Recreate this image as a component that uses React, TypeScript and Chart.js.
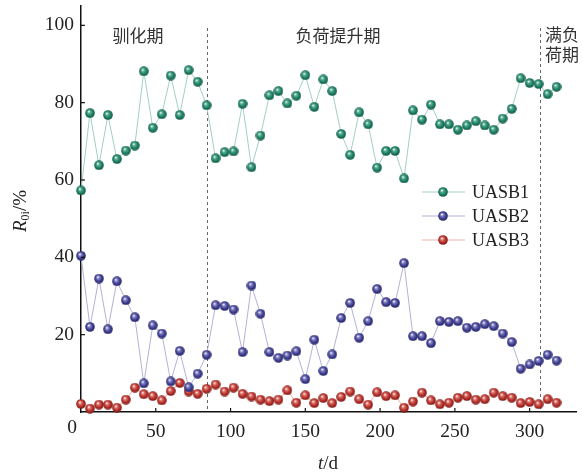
import React, { useEffect, useRef } from 'react';
import { Chart, registerables } from 'chart.js';
Chart.register(...registerables);

const days = [0,6,12,18,24,30,36,42,48,54,60,66,72,78,84,90,96,102,108,114,120,126,132,138,144,150,156,162,168,174,180,186,192,198,204,210,216,222,228,234,240,246,252,258,264,270,276,282,288,294,300,306,312,318];
const uasb1 = [57.3,77.3,63.8,76.8,65.4,67.6,68.9,88.1,73.5,77.0,87.0,76.8,88.4,85.4,79.3,65.6,67.2,67.4,79.7,63.3,71.5,81.9,83.0,79.8,81.8,87.1,78.9,86.0,83.0,71.9,66.5,77.5,74.4,63.2,67.5,67.5,60.4,78.0,75.6,79.5,74.4,74.4,73.0,74.1,75.2,74.1,73.0,75.9,78.4,86.3,85.1,84.8,82.2,84.1];
const uasb2 = [40.4,22.0,34.5,21.4,33.8,28.9,24.5,7.4,22.4,20.3,7.9,15.8,6.4,9.9,14.8,27.6,27.4,26.5,15.5,32.7,25.4,15.5,14.0,14.6,15.7,8.5,18.7,10.6,14.9,24.3,28.2,19.2,23.5,31.8,28.4,28.2,38.5,19.6,19.6,17.8,23.5,23.3,23.5,21.8,22.0,22.7,22.2,20.3,18.1,11.2,12.3,13.2,14.8,13.3];
const uasb3 = [2.1,0.9,1.9,1.9,1.1,3.2,6.3,4.6,4.1,3.0,5.4,7.5,5.3,4.7,6.0,7.1,5.3,6.3,4.7,4.0,3.2,2.8,3.2,5.6,2.4,4.3,2.3,3.6,2.3,3.9,5.3,3.3,1.9,5.1,4.1,4.3,1.1,2.7,5.0,3.0,2.0,2.4,3.7,4.1,3.2,3.3,5.0,4.1,3.7,2.3,2.6,2.0,3.3,2.4];
const seriesNames = ['UASB1', 'UASB2', 'UASB3'];
const xTicks = [0, 50, 100, 150, 200, 250, 300];
const yTicks = [0, 20, 40, 60, 80, 100];
const phaseBounds = [84, 307];
const phaseLabels = ['驯化期', '负荷提升期', '满负', '荷期'];

const markerColors = [
  { mid: '#1f8165', dark: '#0c4f3c', light: '#5fb39a', line: '#a3cfc2' },
  { mid: '#403f92', dark: '#20205c', light: '#8a88c8', line: '#b3b1d6' },
  { mid: '#b8302b', dark: '#701410', light: '#e07a72', line: '#eeb3a6' },
];

function sphere(c: { mid: string; dark: string; light: string }) {
  const cv = document.createElement('canvas');
  cv.width = 10; cv.height = 10;
  const g = cv.getContext('2d')!;
  const grad = g.createRadialGradient(3.8, 3.3, 0.3, 5, 5, 5.2);
  grad.addColorStop(0, '#ffffff');
  grad.addColorStop(0.22, c.light);
  grad.addColorStop(0.6, c.mid);
  grad.addColorStop(1, c.dark);
  g.fillStyle = grad;
  g.beginPath();
  g.arc(5, 5, 4.8, 0, Math.PI * 2);
  g.fill();
  return cv;
}

export default function App() {
  const ref = useRef<HTMLCanvasElement>(null);
  useEffect(() => {
    const sprites = markerColors.map(sphere);
    const serif = "'Liberation Serif', 'DejaVu Serif', serif";
    const cjk = "'Noto Sans CJK SC', sans-serif";
    const decor = {
      id: 'decor',
      beforeDatasetsDraw(chart: any) {
        const ctx = chart.ctx;
        const xs = chart.scales.x, ys = chart.scales.y;
        ctx.save();
        ctx.strokeStyle = '#666';
        ctx.lineWidth = 1;
        ctx.setLineDash([3, 3]);
        phaseBounds.forEach((b) => {
          const px = Math.round(xs.getPixelForValue(b)) + 0.5;
          ctx.beginPath();
          ctx.moveTo(px, 28);
          ctx.lineTo(px, ys.getPixelForValue(0));
          ctx.stroke();
        });
        ctx.restore();
      },
      afterDraw(chart: any) {
        const ctx = chart.ctx;
        const xs = chart.scales.x, ys = chart.scales.y;
        const area = chart.chartArea;
        ctx.save();
        ctx.strokeStyle = '#111';
        ctx.lineWidth = 1.2;
        xTicks.forEach((t) => {
          if (t === 0) return;
          const px = xs.getPixelForValue(t);
          ctx.beginPath();
          ctx.moveTo(px, area.bottom);
          ctx.lineTo(px, area.bottom - 4);
          ctx.stroke();
        });
        yTicks.forEach((t) => {
          if (t === 0) return;
          const py = ys.getPixelForValue(t);
          ctx.beginPath();
          ctx.moveTo(area.left, py);
          ctx.lineTo(area.left + 4, py);
          ctx.stroke();
        });
        ctx.fillStyle = '#222';
        ctx.font = `19.5px ${serif}`;
        ctx.textAlign = 'center';
        ctx.textBaseline = 'middle';
        ctx.fillText('0', 72, 428);
        ctx.font = `17px ${cjk}`;
        ctx.fillStyle = '#333';
        ctx.fillText(phaseLabels[0], 138, 36);
        ctx.fillText(phaseLabels[1], 338, 36);
        ctx.textAlign = 'left';
        ctx.fillText(phaseLabels[2], 545, 35);
        ctx.fillText(phaseLabels[3], 545, 55);
        ctx.fillStyle = '#222';
        ctx.textAlign = 'left';
        ctx.font = `italic 19px ${serif}`;
        const tW = ctx.measureText('t').width;
        ctx.font = `19px ${serif}`;
        const dW = ctx.measureText('/d').width;
        const sx = 328 - (tW + dW) / 2;
        ctx.font = `italic 19px ${serif}`;
        ctx.fillText('t', sx, 464);
        ctx.font = `19px ${serif}`;
        ctx.fillText('/d', sx + tW, 464);
        ctx.translate(21, 211);
        ctx.rotate(-Math.PI / 2);
        ctx.font = `italic 19px ${serif}`;
        const rW = ctx.measureText('R').width;
        ctx.font = `12px ${serif}`;
        const sW = ctx.measureText('0i').width;
        ctx.font = `19px ${serif}`;
        const pW = ctx.measureText('/%').width;
        const yx = -(rW + sW + pW) / 2;
        ctx.font = `italic 19px ${serif}`;
        ctx.fillText('R', yx, 0);
        ctx.font = `12px ${serif}`;
        ctx.fillText('0i', yx + rW, 5);
        ctx.font = `19px ${serif}`;
        ctx.fillText('/%', yx + rW + sW, 0);
        ctx.setTransform(1, 0, 0, 1, 0, 0);
        const rows = [192, 216, 240];
        rows.forEach((ry, i) => {
          ctx.strokeStyle = markerColors[i].line;
          ctx.lineWidth = 1.2;
          ctx.beginPath();
          ctx.moveTo(422, ry);
          ctx.lineTo(465, ry);
          ctx.stroke();
          ctx.drawImage(sprites[i], 438, ry - 5);
          ctx.fillStyle = '#222';
          ctx.font = `18px ${serif}`;
          ctx.textAlign = 'left';
          ctx.textBaseline = 'middle';
          ctx.fillText(seriesNames[i], 472, ry + 1);
        });
        ctx.restore();
      },
    };

    const mk = (vals: number[], i: number) => ({
      label: seriesNames[i],
      data: days.map((d, k) => ({ x: d, y: vals[k] })),
      borderColor: markerColors[i].line,
      borderWidth: 1,
      pointStyle: sprites[i] as any,
      pointRadius: 5,
      pointHoverRadius: 5,
      tension: 0,
      clip: false as any,
    });

    const chart = new Chart(ref.current!, {
      type: 'line',
      data: { datasets: [mk(uasb1, 0), mk(uasb2, 1), mk(uasb3, 2)] },
      options: {
        animation: false,
        responsive: false,
        events: [],
        layout: { padding: { top: 6, right: 4, left: 0, bottom: 0 } },
        plugins: { legend: { display: false }, tooltip: { enabled: false } },
        scales: {
          x: {
            type: 'linear',
            min: 0,
            max: 331,
            grid: { display: false, drawTicks: false },
            border: { display: true, color: '#111', width: 1.5 },
            ticks: {
              stepSize: 50,
              includeBounds: false,
              padding: 8,
              color: '#222',
              font: { family: serif, size: 19.5 },
              callback: (v: any) => (v === 0 ? '' : String(v)),
              maxRotation: 0,
            },
            afterFit: (s: any) => { s.height = 63; s.paddingLeft = 0; s.paddingRight = 0; },
          },
          y: {
            type: 'linear',
            min: 0,
            max: 105,
            grid: { display: false, drawTicks: false },
            border: { display: true, color: '#111', width: 1.5 },
            ticks: {
              stepSize: 20,
              includeBounds: false,
              padding: 7,
              color: '#222',
              font: { family: serif, size: 19.5 },
              callback: (v: any) => (v === 0 ? '' : String(v)),
            },
            afterFit: (s: any) => { s.width = 81; s.paddingTop = 0; s.paddingBottom = 0; },
          },
        },
      },
      plugins: [decor],
    });
    return () => chart.destroy();
  }, []);
  return (
    <div style={{ position: 'absolute', left: 0, top: 0, width: 582, height: 475, background: '#fff' }}>
      <canvas ref={ref} width={582} height={475} style={{ width: 582, height: 475, display: 'block' }} />
    </div>
  );
}
